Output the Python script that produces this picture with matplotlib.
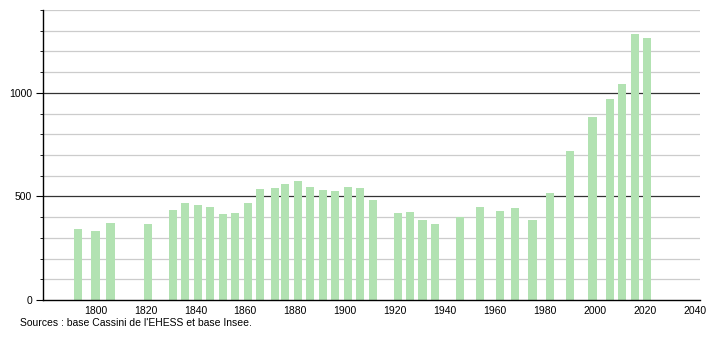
import matplotlib.pyplot as plt
from matplotlib.ticker import MultipleLocator

# data
years = [1793, 1800, 1806, 1821, 1831, 1836, 1841, 1846, 1851, 1856,
         1861, 1866, 1872, 1876, 1881, 1886, 1891, 1896, 1901, 1906,
         1911, 1921, 1926, 1931, 1936, 1946, 1954, 1962, 1968, 1975,
         1982, 1990, 1999, 2006, 2011, 2016, 2021]
population = [343, 334, 372, 368, 435, 469, 460, 447, 416, 422,
              468, 537, 542, 558, 576, 547, 532, 526, 547, 543,
              484, 418, 426, 385, 368, 403, 448, 431, 444, 387,
              518, 719, 884, 968, 1045, 1282, 1266]
xticks = list(range(1800, 2041, 20))

plt.rcParams['font.family'] = ['Liberation Sans', 'DejaVu Sans']

fig = plt.figure(figsize=(7.1, 3.4), dpi=100)
ax = fig.add_axes([0.0606, 0.1176, 0.925, 0.853])

# grid lines
for v in range(100, 1401, 100):
    if v % 500 == 0:
        ax.axhline(v, color='#333333', lw=0.9, zorder=1)
    else:
        ax.axhline(v, color='#cccccc', lw=0.9, zorder=1)

ax.bar(years, population, width=3.3, color='#b2e2b2', zorder=2)

ax.set_xlim(1779, 2042)
ax.set_ylim(0, 1400)
ax.set_xticks(xticks)
ax.yaxis.set_major_locator(MultipleLocator(500))
ax.yaxis.set_minor_locator(MultipleLocator(100))

ax.spines['top'].set_visible(False)
ax.spines['right'].set_visible(False)
ax.spines['left'].set_linewidth(1.0)
ax.spines['bottom'].set_linewidth(1.0)
ax.tick_params(axis='x', length=0, labelsize=7.5, pad=4)
ax.tick_params(axis='y', which='major', length=5, labelsize=7.5, pad=3)
ax.tick_params(axis='y', which='minor', length=2)

fig.text(0.028, 0.035, "Sources : base Cassini de l'EHESS et base Insee.",
         fontsize=7.5, ha='left', va='bottom')

fig.savefig('out.png', dpi=100)
